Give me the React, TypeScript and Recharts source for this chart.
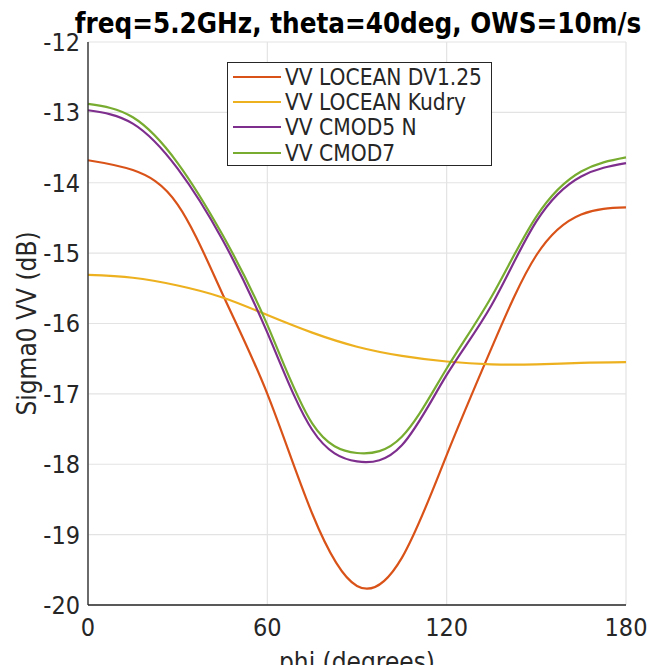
import React from 'react';
import { LineChart, Line, XAxis, YAxis, CartesianGrid, Legend } from 'recharts';

// phi (degrees)
const phi = [0, 15, 30, 45, 60, 75, 90, 105, 120, 135, 150, 165, 180];
// sigma0 VV (dB)
const locDv125 = [-13.68, -13.82, -14.31, -15.58, -17.0, -18.7, -19.73, -19.33, -17.87, -16.35, -15.03, -14.45, -14.35];
const locKudry = [-15.31, -15.35, -15.46, -15.63, -15.88, -16.13, -16.33, -16.46, -16.54, -16.58, -16.58, -16.56, -16.55];
const cmod5n = [-12.97, -13.16, -13.8, -14.81, -16.13, -17.51, -17.96, -17.73, -16.73, -15.74, -14.55, -13.91, -13.72];
const cmod7 = [-12.88, -13.07, -13.72, -14.74, -16.02, -17.42, -17.84, -17.61, -16.64, -15.62, -14.48, -13.84, -13.64];

const xTicks = [0, 60, 120, 180];
const yTicks = [-20, -19, -18, -17, -16, -15, -14, -13, -12];

const series = [
  { key: 'dv', name: 'VV LOCEAN DV1.25', color: '#D95319', values: locDv125 },
  { key: 'kudry', name: 'VV LOCEAN Kudry', color: '#EDB120', values: locKudry },
  { key: 'c5n', name: 'VV CMOD5 N', color: '#7E2F8E', values: cmod5n },
  { key: 'c7', name: 'VV CMOD7', color: '#77AC30', values: cmod7 },
];

const data = phi.map((p, i) => {
  const row: any = { phi: p };
  series.forEach(s => { row[s.key] = s.values[i]; });
  return row;
});

const FONT = "'DejaVu Sans Condensed', 'DejaVu Sans', sans-serif";
const AX = '#262626';
const noLabel = () => <g />;

// keep the plotting order in the legend (recharts sorts by name otherwise)
const renderLegend = () => (
  <div style={{ border: `1.3px solid ${AX}`, background: '#fff', boxSizing: 'border-box', width: '100%', height: '100%', paddingTop: 1 }}>
    {series.map(s => (
      <div key={s.key} style={{ display: 'flex', alignItems: 'center', height: 25.3, fontFamily: FONT, fontSize: 22.5, color: AX, whiteSpace: 'nowrap' }}>
        <span style={{ display: 'inline-block', width: 48, height: 0, borderTop: `2.2px solid ${s.color}`, marginLeft: 5, marginRight: 4 }} />
        <span>{s.name}</span>
      </div>
    ))}
  </div>
);

export default function App() {
  return (
    <div style={{ position: 'relative', width: 648, height: 665, background: '#fff' }}>
      <style>{'body{margin:0}'}</style>
      <div style={{ position: 'absolute', left: 60, width: 596, top: 7, textAlign: 'center', fontFamily: FONT, fontWeight: 'bold', fontSize: 27.5, lineHeight: '32px', color: '#000', whiteSpace: 'nowrap' }}>
        freq=5.2GHz, theta=40deg, OWS=10m/s
      </div>
      <LineChart width={648} height={665} data={data} margin={{ top: 42, right: 22, bottom: 0, left: 0 }}>
        <CartesianGrid xAxisId="b" yAxisId="l" stroke="#e3e3e3" strokeWidth={1.2} />
        <XAxis
          xAxisId="b"
          dataKey="phi"
          type="number"
          domain={[0, 180]}
          ticks={xTicks}
          height={60}
          tickLine={false}
          tickSize={0}
          tickMargin={13}
          axisLine={{ stroke: AX, strokeWidth: 1.3 }}
          tick={{ fill: AX, fontFamily: FONT, fontSize: 25 }}
          label={{ value: 'phi (degrees)', position: 'insideBottom', offset: -6, fill: AX, fontFamily: FONT, fontSize: 26 }}
        />
        <XAxis xAxisId="bm" dataKey="phi" type="number" domain={[0, 180]} ticks={xTicks} height={0} mirror tick={noLabel} tickSize={5} axisLine={false} tickLine={{ stroke: AX, strokeWidth: 1.2 }} />
        <XAxis xAxisId="t" orientation="top" dataKey="phi" type="number" domain={[0, 180]} ticks={xTicks} height={0} mirror tick={noLabel} tickSize={5} axisLine={{ stroke: AX, strokeWidth: 1.3 }} tickLine={{ stroke: AX, strokeWidth: 1.2 }} />
        <YAxis
          yAxisId="l"
          type="number"
          domain={[-20, -12]}
          ticks={yTicks}
          width={88}
          tickLine={false}
          tickSize={0}
          tickMargin={8}
          axisLine={{ stroke: AX, strokeWidth: 1.3 }}
          tick={{ fill: AX, fontFamily: FONT, fontSize: 25 }}
          label={{ value: 'Sigma0 VV (dB)', angle: -90, position: 'insideLeft', offset: 27, fill: AX, fontFamily: FONT, fontSize: 26, style: { textAnchor: 'middle' } }}
        />
        <YAxis yAxisId="lm" type="number" domain={[-20, -12]} ticks={yTicks} width={0} mirror tick={noLabel} tickSize={5} axisLine={false} tickLine={{ stroke: AX, strokeWidth: 1.2 }} />
        <YAxis yAxisId="r" orientation="right" type="number" domain={[-20, -12]} ticks={yTicks} width={0} mirror tick={noLabel} tickSize={5} axisLine={{ stroke: AX, strokeWidth: 1.3 }} tickLine={{ stroke: AX, strokeWidth: 1.2 }} />
        <Legend verticalAlign="middle" layout="horizontal" align="center" content={renderLegend} wrapperStyle={{ left: 227, top: 62, width: 265, height: 104 }} />
        {series.map(s => (
          <Line
            key={s.key}
            xAxisId="b"
            yAxisId="l"
            type="natural"
            dataKey={s.key}
            name={s.name}
            stroke={s.color}
            strokeWidth={2.2}
            dot={false}
            isAnimationActive={false}
          />
        ))}
      </LineChart>
    </div>
  );
}
